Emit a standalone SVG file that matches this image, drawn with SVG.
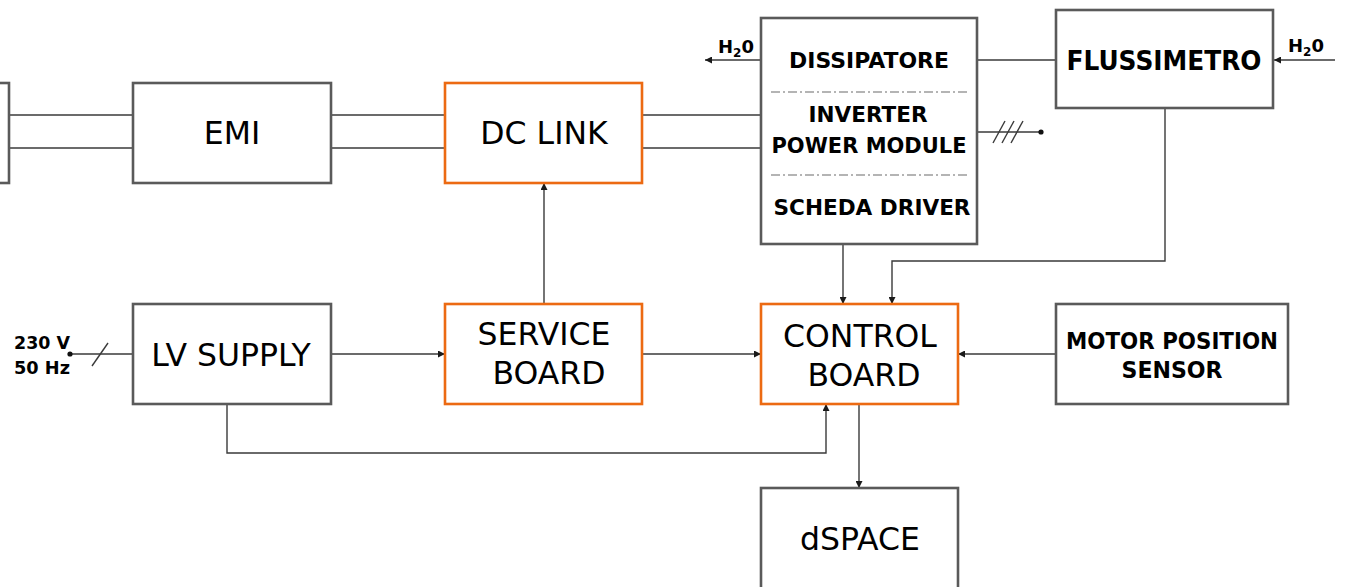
<svg xmlns="http://www.w3.org/2000/svg" width="1357" height="587" viewBox="0 0 1357 587">
  <style>
    .box { fill: #ffffff; stroke: #5a5a5a; stroke-width: 2.6; }
    .hot { fill: #ffffff; stroke: #ec6a12; stroke-width: 2.6; }
    .big { font-family: "DejaVu Sans", Verdana, sans-serif; font-size: 31.5px; fill: #000; text-anchor: middle; }
    .lbl { font-family: "DejaVu Sans", Verdana, sans-serif; font-weight: bold; fill: #000; text-anchor: middle; }
    .wire { fill: none; stroke: #3a3a3a; stroke-width: 1.4; }
    .sep { fill: none; stroke: #6a6a6a; stroke-width: 1.2; stroke-dasharray: 9 3 2 3; }
  </style>
  <defs>
    <marker id="arr" viewBox="0 0 10 10" refX="10" refY="5" markerWidth="7" markerHeight="7" markerUnits="userSpaceOnUse" orient="auto">
      <path d="M0,0 L10,5 L0,10 z" fill="#1a1a1a"/>
    </marker>
  </defs>

  <rect width="1357" height="587" fill="#ffffff"/>

  <!-- connectors -->
  <g id="connectors">
    <!-- power bus -->
    <line class="wire" x1="9" y1="115" x2="133" y2="115"/>
    <line class="wire" x1="9" y1="148" x2="133" y2="148"/>
    <line class="wire" x1="331" y1="115" x2="445" y2="115"/>
    <line class="wire" x1="331" y1="148" x2="445" y2="148"/>
    <line class="wire" x1="642" y1="115" x2="761" y2="115"/>
    <line class="wire" x1="642" y1="148" x2="761" y2="148"/>
    <!-- coolant -->
    <line class="wire" x1="761" y1="60" x2="705" y2="60" marker-end="url(#arr)"/>
    <line class="wire" x1="977" y1="60" x2="1056" y2="60"/>
    <line class="wire" x1="1335" y1="60" x2="1274" y2="60" marker-end="url(#arr)"/>
    <!-- three-phase output -->
    <line class="wire" x1="977" y1="132" x2="1041" y2="132"/>
    <line class="wire" x1="993" y1="143" x2="1005" y2="121"/>
    <line class="wire" x1="1002" y1="143" x2="1014" y2="121"/>
    <line class="wire" x1="1011" y1="143" x2="1023" y2="121"/>
    <circle cx="1041" cy="132" r="2.6" fill="#111"/>
    <!-- mains input -->
    <line class="wire" x1="70" y1="354" x2="133" y2="354"/>
    <line class="wire" x1="92" y1="366" x2="108" y2="343"/>
    <circle cx="70" cy="354" r="2.6" fill="#111"/>
    <!-- signal paths -->
    <line class="wire" x1="331" y1="354" x2="445" y2="354" marker-end="url(#arr)"/>
    <line class="wire" x1="642" y1="354" x2="761" y2="354" marker-end="url(#arr)"/>
    <line class="wire" x1="1056" y1="354" x2="958" y2="354" marker-end="url(#arr)"/>
    <line class="wire" x1="544" y1="304" x2="544" y2="183" marker-end="url(#arr)"/>
    <line class="wire" x1="843" y1="244" x2="843" y2="304" marker-end="url(#arr)"/>
    <polyline class="wire" points="1165,108 1165,261 892,261 892,304" marker-end="url(#arr)"/>
    <polyline class="wire" points="227,404 227,453 826,453 826,404" marker-end="url(#arr)"/>
    <line class="wire" x1="859" y1="404" x2="859" y2="488" marker-end="url(#arr)"/>
  </g>

  <!-- mains supply label -->
  <g id="mains">
    <text class="lbl" x="14" y="349" font-size="18" text-anchor="start" style="text-anchor:start" textLength="56" lengthAdjust="spacingAndGlyphs">230 V</text>
    <text class="lbl" x="14" y="374" font-size="18" style="text-anchor:start" textLength="56" lengthAdjust="spacingAndGlyphs">50 Hz</text>
  </g>

  <!-- coolant labels -->
  <g id="h2o-out">
    <text class="lbl" x="718" y="53" font-size="18" style="text-anchor:start">H<tspan font-size="12" dy="4">2</tspan><tspan dy="-4">0</tspan></text>
  </g>
  <g id="h2o-in">
    <text class="lbl" x="1288" y="52" font-size="18" style="text-anchor:start">H<tspan font-size="12" dy="4">2</tspan><tspan dy="-4">0</tspan></text>
  </g>

  <!-- source (partially visible) -->
  <g id="source">
    <rect class="box" x="-20" y="83" width="29" height="100"/>
  </g>

  <g id="emi">
    <rect class="box" x="133" y="83" width="198" height="100"/>
    <text class="big" x="232" y="144">EMI</text>
  </g>

  <g id="dc-link">
    <rect class="hot" x="445" y="83" width="197" height="100"/>
    <text class="big" x="544" y="144">DC LINK</text>
  </g>

  <g id="inverter">
    <rect class="box" x="761" y="18" width="216" height="226"/>
    <text class="lbl" x="869" y="68" font-size="22" textLength="160" lengthAdjust="spacingAndGlyphs">DISSIPATORE</text>
    <line class="sep" x1="771" y1="92" x2="969" y2="92"/>
    <text class="lbl" x="868" y="122" font-size="22" textLength="119" lengthAdjust="spacingAndGlyphs">INVERTER</text>
    <text class="lbl" x="869" y="153" font-size="22" textLength="195" lengthAdjust="spacingAndGlyphs">POWER MODULE</text>
    <line class="sep" x1="771" y1="175" x2="969" y2="175"/>
    <text class="lbl" x="872" y="215" font-size="22" textLength="197" lengthAdjust="spacingAndGlyphs">SCHEDA DRIVER</text>
  </g>

  <g id="flussimetro">
    <rect class="box" x="1056" y="10" width="217" height="98"/>
    <text class="lbl" x="1164" y="70" font-size="26" textLength="195" lengthAdjust="spacingAndGlyphs">FLUSSIMETRO</text>
  </g>

  <g id="lv-supply">
    <rect class="box" x="133" y="304" width="198" height="100"/>
    <text class="big" x="231" y="366">LV SUPPLY</text>
  </g>

  <g id="service-board">
    <rect class="hot" x="445" y="304" width="197" height="100"/>
    <text class="big" x="544" y="345">SERVICE</text>
    <text class="big" x="549" y="384">BOARD</text>
  </g>

  <g id="control-board">
    <rect class="hot" x="761" y="304" width="197" height="100"/>
    <text class="big" x="860" y="347">CONTROL</text>
    <text class="big" x="864" y="386">BOARD</text>
  </g>

  <g id="motor-sensor">
    <rect class="box" x="1056" y="304" width="232" height="100"/>
    <text class="lbl" x="1172" y="349" font-size="23" textLength="212" lengthAdjust="spacingAndGlyphs">MOTOR POSITION</text>
    <text class="lbl" x="1172" y="378" font-size="23" textLength="101" lengthAdjust="spacingAndGlyphs">SENSOR</text>
  </g>

  <g id="dspace">
    <rect class="box" x="761" y="488" width="197" height="110"/>
    <text class="big" x="860" y="550">dSPACE</text>
  </g>
</svg>
